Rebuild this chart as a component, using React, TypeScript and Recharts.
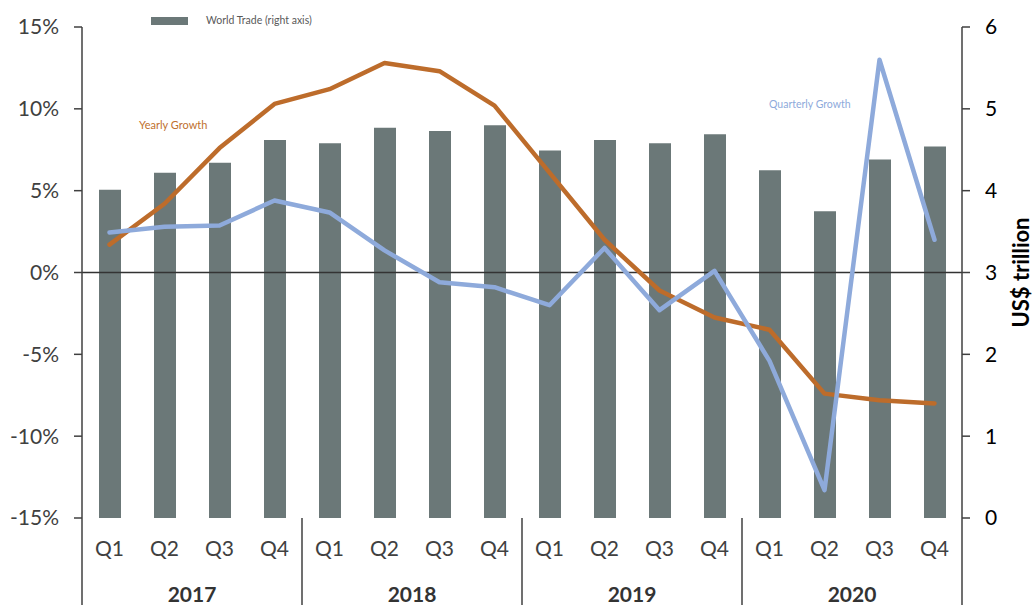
import {
  ComposedChart,
  Bar,
  Line,
  XAxis,
  YAxis,
  ReferenceLine,
} from "recharts";

const years = ["2017", "2018", "2019", "2020"];
const quarters = ["Q1", "Q2", "Q3", "Q4"];

// US$ trillion (right axis)
const worldTrade = [4.01, 4.22, 4.34, 4.62, 4.58, 4.77, 4.73, 4.8, 4.49, 4.62, 4.58, 4.69, 4.25, 3.75, 4.38, 4.54];
// % (left axis)
const yearlyGrowth = [1.7, 4.2, 7.6, 10.3, 11.2, 12.8, 12.3, 10.2, 6.1, 2.0, -1.1, -2.75, -3.5, -7.4, -7.8, -8.0];
const quarterlyGrowth = [2.45, 2.8, 2.87, 4.4, 3.67, 1.35, -0.6, -0.9, -2.0, 1.5, -2.3, 0.1, -5.4, -13.3, 13.0, 2.0];

const leftTicks = [-15, -10, -5, 0, 5, 10, 15];
const rightTicks = [0, 1, 2, 3, 4, 5, 6];

const data = worldTrade.map((v, i) => ({
  name: `${years[Math.floor(i / 4)]} ${quarters[i % 4]}`,
  q: quarters[i % 4],
  year: years[Math.floor(i / 4)],
  trade: v,
  yearly: yearlyGrowth[i],
  quarterly: quarterlyGrowth[i],
}));

const FONT = "Lato, 'Open Sans', sans-serif";
const BAR = "#6b7878";
const ORANGE = "#bd6c2b";
const BLUE = "#8eaadb";

function QuarterTick(props: any) {
  const { x, y, index, payload } = props;
  const row = data[index];
  const half = payload?.offset || 27.5;
  const last = index === data.length - 1;
  return (
    <g>
      <text x={x} y={y + 38} textAnchor="middle" fontSize={21} fill="#404040" fontFamily={FONT}>
        {row.q}
      </text>
      {index % 4 === 0 && (
        <>
          <line x1={x - half} y1={y} x2={x - half} y2={y + 90} stroke="#404040" strokeWidth={1.5} />
          <text
            x={x + half * 3}
            y={y + 84}
            textAnchor="middle"
            fontSize={21}
            fontWeight="bold"
            fill="#333"
            fontFamily={FONT}
          >
            {row.year}
          </text>
        </>
      )}
      {last && <line x1={x + half} y1={y} x2={x + half} y2={y + 90} stroke="#404040" strokeWidth={1.5} />}
    </g>
  );
}

function RightAxisLabel(props: any) {
  const vb = props.viewBox || {};
  const cx = vb.x + vb.width - 16;
  const cy = vb.y + vb.height / 2;
  return (
    <text
      x={cx}
      y={cy}
      transform={`rotate(-90 ${cx} ${cy})`}
      textAnchor="middle"
      dominantBaseline="central"
      fontSize={22}
      fontWeight="bold"
      fill="#000"
      fontFamily={FONT}
    >
      US$ trillion
    </text>
  );
}

export default function App() {
  return (
    <div
      style={{
        position: "absolute",
        left: 0,
        top: 0,
        width: 1036,
        height: 605,
        background: "#fff",
        fontFamily: FONT,
        overflow: "hidden",
      }}
    >
      <ComposedChart width={1036} height={605} data={data} margin={{ top: 27, right: 0, bottom: 0, left: 0 }}>
        <XAxis
          dataKey="name"
          axisLine={false}
          tickLine={false}
          tickSize={0}
          tickMargin={0}
          height={87}
          interval={0}
          tick={<QuarterTick />}
        />
        <YAxis
          yAxisId="left"
          domain={[-15, 15]}
          ticks={leftTicks}
          width={82}
          tickFormatter={(v: number) => `${v}%`}
          axisLine={{ stroke: "#404040", strokeWidth: 1.5 }}
          tickLine={{ stroke: "#404040", strokeWidth: 1.5 }}
          tickSize={8}
          tickMargin={15}
          tick={{ fontSize: 21, fill: "#404040", fontFamily: FONT }}
          allowDataOverflow
        />
        <YAxis
          yAxisId="right"
          orientation="right"
          domain={[0, 6]}
          ticks={rightTicks}
          width={74}
          axisLine={{ stroke: "#404040", strokeWidth: 1.5 }}
          tickLine={{ stroke: "#404040", strokeWidth: 1.5 }}
          tickSize={8}
          tickMargin={15}
          tick={{ fontSize: 21, fill: "#000", fontFamily: FONT }}
          label={<RightAxisLabel />}
        />
        <Bar yAxisId="right" dataKey="trade" fill={BAR} barSize={22} isAnimationActive={false} />
        <ReferenceLine yAxisId="left" y={0} stroke="#333" strokeWidth={1.5} />
        <Line
          yAxisId="left"
          dataKey="yearly"
          type="linear"
          stroke={ORANGE}
          strokeWidth={4.5}
          dot={false}
          strokeLinecap="round"
          strokeLinejoin="round"
          isAnimationActive={false}
        />
        <Line
          yAxisId="left"
          dataKey="quarterly"
          type="linear"
          stroke={BLUE}
          strokeWidth={4.5}
          dot={false}
          strokeLinecap="round"
          strokeLinejoin="round"
          isAnimationActive={false}
        />
      </ComposedChart>
      <div style={{ position: "absolute", left: 151, top: 17, width: 37, height: 8, background: BAR }} />
      <div style={{ position: "absolute", left: 206, top: 14, fontSize: 10.5, color: "#595959", whiteSpace: "nowrap" }}>
        World Trade (right axis)
      </div>
      <div style={{ position: "absolute", left: 139, top: 118, fontSize: 11, color: "#c0702e", whiteSpace: "nowrap" }}>
        Yearly Growth
      </div>
      <div style={{ position: "absolute", left: 769, top: 98, fontSize: 10.5, color: BLUE, whiteSpace: "nowrap" }}>
        Quarterly Growth
      </div>
    </div>
  );
}
